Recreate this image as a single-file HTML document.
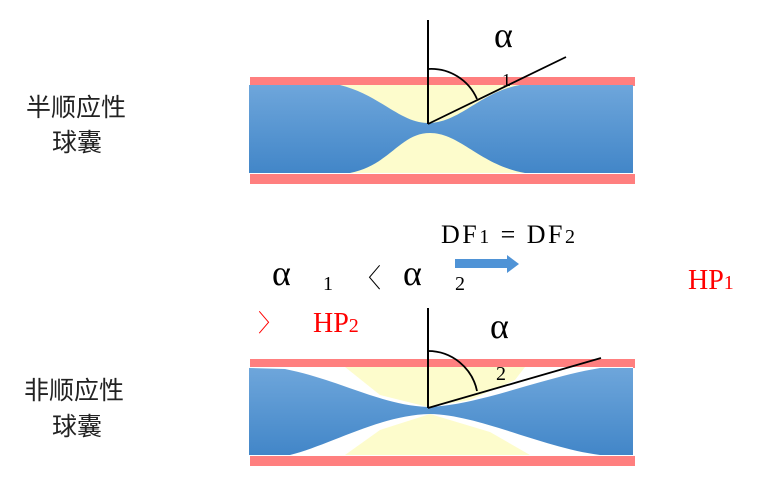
<!DOCTYPE html>
<html><head><meta charset="utf-8"><style>
html,body{margin:0;padding:0;background:#fff;}
svg{display:block}
.s{font-family:"Liberation Serif","Noto Serif CJK SC",serif;}
.c{font-family:"Liberation Sans","Noto Sans CJK SC",sans-serif;font-size:25px;fill:#222}
</style></head><body>
<svg width="766" height="477" viewBox="0 0 766 477" xmlns="http://www.w3.org/2000/svg">
<defs>
<linearGradient id="b" x1="0" y1="0" x2="0" y2="1"><stop offset="0" stop-color="#6ea6db"/><stop offset="1" stop-color="#4286c8"/></linearGradient>
</defs>
<!-- top balloon -->
<rect x="250" y="77" width="385" height="9" fill="#ff7f7f"/>
<rect x="250" y="174" width="385" height="10" fill="#ff7f7f"/>
<rect x="249" y="85" width="384" height="88" fill="#fdfccc"/>
<path d="M249,85 L340,85 C380,95 400,123 428,123 C460,123 480,92 520,85 L633,85 L633,173 L525,173 C480,165 460,133 430,133 C400,133 390,165 350,173 L249,173 Z" fill="url(#b)"/>
<line x1="428" y1="20" x2="428" y2="124" stroke="#000" stroke-width="2"/>
<line x1="428" y1="124" x2="566" y2="57" stroke="#000" stroke-width="1.8"/>
<path d="M428,69 A50,50 0 0 1 477,99" fill="none" stroke="#000" stroke-width="1.8"/>
<text x="494" y="47" class="s" font-size="36">α</text>
<text x="502" y="86" class="s" font-size="18">1</text>
<!-- bottom balloon -->
<rect x="250" y="359" width="385" height="9" fill="#ff7f7f"/>
<rect x="250" y="456" width="385" height="10" fill="#ff7f7f"/>
<rect x="249" y="367" width="384" height="89" fill="#fff"/>
<path d="M345,367 L525,367 L515,380 L470,400 L428,407 L380,395 Z" fill="#fdfccc"/>
<path d="M345,455 L530,455 L490,432 L430,414 L380,430 Z" fill="#fdfccc"/>
<path d="M249,368 L285,369 C340,380 380,405 428,407 C480,405 540,378 600,368 L633,368 L633,455 L600,455 C540,447 480,415 430,414 C380,415 330,445 290,455 L249,455 Z" fill="url(#b)"/>
<line x1="428" y1="308" x2="428" y2="408" stroke="#000" stroke-width="2"/>
<line x1="428" y1="408" x2="601" y2="358" stroke="#000" stroke-width="1.8"/>
<path d="M428,351 A50,50 0 0 1 477,391" fill="none" stroke="#000" stroke-width="1.8"/>
<text x="490" y="338" class="s" font-size="36">α</text>
<text x="496" y="380" class="s" font-size="20">2</text>
<!-- labels -->
<text x="26" y="116" class="c">半顺应性</text>
<text x="52" y="151" class="c">球囊</text>
<text x="24" y="399" class="c">非顺应性</text>
<text x="52" y="435" class="c">球囊</text>
<text x="441" y="243" class="s" font-size="26" textLength="134" lengthAdjust="spacing">DF<tspan font-size="20">1</tspan> = DF<tspan font-size="20">2</tspan></text>
<text x="272" y="285" class="s" font-size="36">α</text>
<text x="323" y="290" class="s" font-size="20">1</text>
<text x="355" y="287" class="s" font-size="26">〈</text>
<text x="403" y="285" class="s" font-size="36">α</text>
<text x="455" y="290" class="s" font-size="20">2</text>
<path d="M455,259 L507,259 L507,255 L519,264 L507,273 L507,268 L455,268 Z" fill="#4f93d6"/>
<text x="688" y="289" class="s" font-size="28" fill="#f00">HP<tspan font-size="20">1</tspan></text>
<text x="258" y="331" class="s" font-size="24" fill="#f00">〉</text>
<text x="313" y="332" class="s" font-size="28" fill="#f00">HP<tspan font-size="20">2</tspan></text>
</svg>
</body></html>
